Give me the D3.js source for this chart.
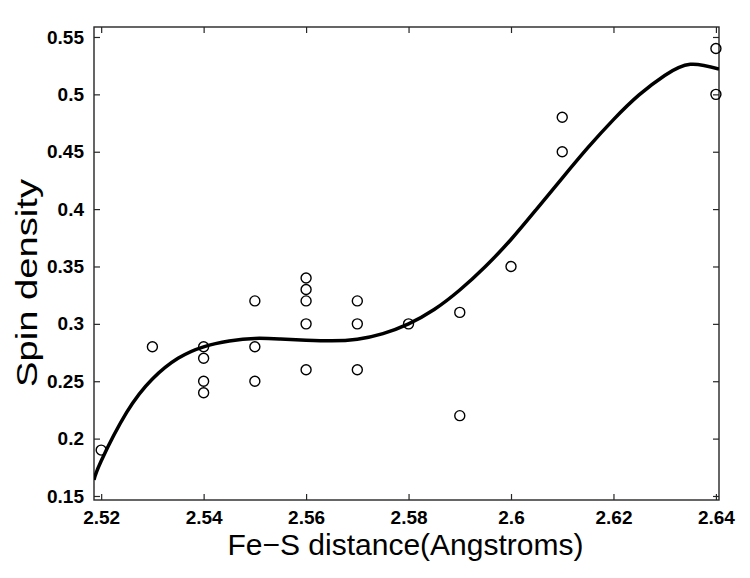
<!DOCTYPE html>
<html lang="en">

<head>
    <script src='https://d3js.org/d3.v7.min.js'></script>
    <style>
        body { margin: 0; background: #fff; }
        text { font-family: "Liberation Sans", Arial, Helvetica, sans-serif; }
    </style>
</head>

<body>

    <script>
        // measured points (x = Fe-S distance, y = spin density)
        const pointX = [2.52, 2.53, 2.54, 2.54, 2.54, 2.54, 2.55, 2.55, 2.55,
                        2.56, 2.56, 2.56, 2.56, 2.56, 2.57, 2.57, 2.57, 2.58,
                        2.59, 2.59, 2.60, 2.61, 2.61, 2.64, 2.64];
        const pointY = [0.19, 0.28, 0.28, 0.27, 0.25, 0.24, 0.32, 0.28, 0.25,
                        0.34, 0.33, 0.32, 0.30, 0.26, 0.32, 0.30, 0.26, 0.30,
                        0.31, 0.22, 0.35, 0.48, 0.45, 0.54, 0.50];

        // fitted curve
        const fitX = [2.5186, 2.520, 2.525, 2.530, 2.535, 2.540, 2.545, 2.550,
                      2.555, 2.560, 2.565, 2.570, 2.575, 2.580, 2.585, 2.590,
                      2.595, 2.600, 2.605, 2.610, 2.615, 2.620, 2.625, 2.630,
                      2.635, 2.6406];
        const fitY = [0.164, 0.1805, 0.223, 0.252, 0.270, 0.280, 0.285, 0.2873,
                      0.2868, 0.2858, 0.2852, 0.2866, 0.2915, 0.300, 0.3125, 0.3295,
                      0.350, 0.3735, 0.400, 0.427, 0.4535, 0.478, 0.4995, 0.5165,
                      0.5262, 0.522];

        const xTicks = [2.52, 2.54, 2.56, 2.58, 2.6, 2.62, 2.64];
        const yTicks = [0.15, 0.2, 0.25, 0.3, 0.35, 0.4, 0.45, 0.5, 0.55];

        const width = 750, height = 578;
        const plotLeft = 94, plotRight = 719, plotTop = 27, plotBottom = 500;

        const x = d3.scaleLinear().domain([2.5186, 2.6406]).range([plotLeft, plotRight]);
        const y = d3.scaleLinear().domain([0.1465, 0.5587]).range([plotBottom, plotTop]);

        const svg = d3.select("body").append("svg")
            .attr("width", width)
            .attr("height", height);

        svg.append("defs").append("clipPath").attr("id", "plotclip")
            .append("rect")
            .attr("x", plotLeft).attr("y", plotTop)
            .attr("width", plotRight - plotLeft).attr("height", plotBottom - plotTop);

        const tickLen = 6;
        const axisColor = "#262626";
        const fmt = d => String(+d.toFixed(2));

        // bottom / top / left / right axes, ticks pointing inward
        const xb = svg.append("g").attr("transform", `translate(0,${plotBottom})`)
            .call(d3.axisBottom(x).tickValues(xTicks).tickSizeInner(-tickLen).tickSizeOuter(0)
                .tickFormat(fmt).tickPadding(11));
        const xt = svg.append("g").attr("transform", `translate(0,${plotTop})`)
            .call(d3.axisTop(x).tickValues(xTicks).tickSizeInner(-tickLen).tickSizeOuter(0)
                .tickFormat(""));
        const yl = svg.append("g").attr("transform", `translate(${plotLeft},0)`)
            .call(d3.axisLeft(y).tickValues(yTicks).tickSizeInner(-tickLen).tickSizeOuter(0)
                .tickFormat(fmt).tickPadding(10));
        const yr = svg.append("g").attr("transform", `translate(${plotRight},0)`)
            .call(d3.axisRight(y).tickValues(yTicks).tickSizeInner(-tickLen).tickSizeOuter(0)
                .tickFormat(""));

        [xb, xt, yl, yr].forEach(g => {
            g.select(".domain").remove();
            g.selectAll("line").attr("stroke", axisColor).attr("stroke-width", 1.2);
            g.selectAll("text")
                .attr("fill", "#000")
                .style("font-size", "19px")
                .style("font-weight", "bold");
        });

        // box
        svg.append("rect")
            .attr("x", plotLeft).attr("y", plotTop)
            .attr("width", plotRight - plotLeft).attr("height", plotBottom - plotTop)
            .attr("fill", "none")
            .attr("stroke", axisColor)
            .attr("stroke-width", 1.4);

        // fitted curve
        const fit = fitX.map((d, i) => [d, fitY[i]]);
        svg.append("path")
            .datum(fit)
            .attr("clip-path", "url(#plotclip)")
            .attr("fill", "none")
            .attr("stroke", "#000")
            .attr("stroke-width", 3.5)
            .attr("d", d3.line().x(d => x(d[0])).y(d => y(d[1])).curve(d3.curveNatural));

        // circles
        const pts = pointX.map((d, i) => [d, pointY[i]]);
        svg.append("g").selectAll("circle")
            .data(pts)
            .enter()
            .append("circle")
            .attr("cx", d => x(d[0]))
            .attr("cy", d => y(d[1]))
            .attr("r", 5)
            .attr("fill", "none")
            .attr("stroke", "#000")
            .attr("stroke-width", 1.4);

        // axis labels
        svg.append("text")
            .attr("x", (plotLeft + plotRight) / 2 - 1)
            .attr("y", 555)
            .attr("text-anchor", "middle")
            .style("font-size", "30px")
            .text("Fe\u2212S distance(Angstroms)");

        svg.append("text")
            .attr("transform", "translate(37,283) rotate(-90)")
            .attr("text-anchor", "middle")
            .attr("textLength", 208)
            .attr("lengthAdjust", "spacingAndGlyphs")
            .style("font-size", "30px")
            .text("Spin density");
    </script>

</body>

</html>
